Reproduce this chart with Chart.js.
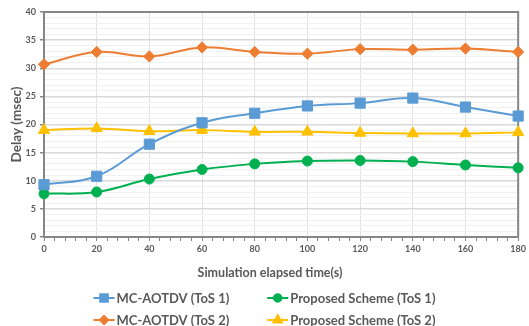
<!DOCTYPE html>
<html>
<head>
<meta charset="utf-8">
<script src="https://cdn.jsdelivr.net/npm/chart.js@4.4.0/dist/chart.umd.min.js"></script>
<style>
  html, body { margin: 0; padding: 0; background: #ffffff; }
  #wrap { width: 529px; height: 326px; }
</style>
</head>
<body>
<div id="wrap"><canvas id="chart" width="529" height="326"></canvas></div>
<script>
// Simulation time (s) at which delay was sampled
const times = [0, 20, 40, 60, 80, 100, 120, 140, 160, 180];

// Average delay (msec) per scheme and type of service
const mcAotdvTos1   = [9.3, 10.8, 16.5, 20.3, 22.0, 23.3, 23.8, 24.7, 23.1, 21.5];
const mcAotdvTos2   = [30.7, 32.9, 32.1, 33.7, 32.9, 32.6, 33.4, 33.3, 33.5, 32.9];
const proposedTos1  = [7.7, 8.0, 10.3, 12.0, 13.0, 13.5, 13.6, 13.4, 12.8, 12.3];
const proposedTos2  = [19.0, 19.3, 18.8, 19.0, 18.7, 18.7, 18.5, 18.4, 18.4, 18.6];

const seriesNames = ['MC-AOTDV (ToS 1)', 'MC-AOTDV (ToS 2)', 'Proposed Scheme (ToS 1)', 'Proposed Scheme (ToS 2)'];

// Axis settings
const yMin = 0, yMax = 40, yMajor = 5;
const xMin = 0, xMax = 180, xMajor = 20, xMinor = 4;
const xTitle = 'Simulation elapsed time(s)';
const yTitle = 'Delay (msec)';

const FONT = 'Lato, "Open Sans", "DejaVu Sans", sans-serif';
const TEXT = '#595959';
const AXIS = '#868686';

function pairs(values) {
  return values.map((v, i) => ({ x: times[i], y: v }));
}

function series(label, values, color, style, radius) {
  return {
    label,
    data: pairs(values),
    borderColor: color,
    backgroundColor: color,
    borderWidth: 2,
    pointStyle: style,
    pointRadius: radius,
    pointHoverRadius: radius,
    pointBackgroundColor: color,
    pointBorderColor: color,
    pointBorderWidth: 1,
    tension: 0.4,
    clip: false,
    fill: false
  };
}

const datasets = [
  series(seriesNames[0], mcAotdvTos1, '#5B9BD5', 'rect', 7.2),
  series(seriesNames[1], mcAotdvTos2, '#ED7D31', 'rectRot', 5.6),
  series(seriesNames[2], proposedTos1, '#00B050', 'circle', 5),
  series(seriesNames[3], proposedTos2, '#FFC000', 'triangle', 6.5)
];

// Legend entries laid out two per row: ToS 1 on the first row, ToS 2 below
const legendGrid = [[0, 2], [1, 3]];

const framePlugin = {
  id: 'plotFrame',
  beforeDatasetsDraw(chart) {
    const { ctx, chartArea: a } = chart;
    ctx.save();
    ctx.strokeStyle = AXIS;
    ctx.lineWidth = 2;
    ctx.beginPath();
    ctx.moveTo(a.left, a.top);
    ctx.lineTo(a.right, a.top);
    ctx.lineTo(a.right, a.bottom);
    ctx.stroke();
    ctx.restore();
  },
  afterDraw(chart) {
    const { ctx } = chart;
    ctx.save();
    // x axis title
    ctx.fillStyle = TEXT;
    ctx.font = 'bold 12.5px ' + FONT;
    ctx.textAlign = 'center';
    ctx.textBaseline = 'middle';
    ctx.fillText(xTitle, 270, 273);

    // legend
    ctx.font = 'bold 13px ' + FONT;
    const lineLen = 21, gapText = 2, colGap = 38, rowY = [298, 320];
    const colW = [0, 1].map(c => Math.max(...legendGrid.map(r => ctx.measureText(chart.data.datasets[r[c]].label).width)));
    const total = lineLen + gapText + colW[0] + colGap + lineLen + gapText + colW[1];
    let x0 = (chart.width - total) / 2;
    const colX = [x0, x0 + lineLen + gapText + colW[0] + colGap];
    legendGrid.forEach((row, r) => {
      row.forEach((di, c) => {
        const ds = chart.data.datasets[di];
        const lx = colX[c], ly = rowY[r];
        ctx.strokeStyle = ds.borderColor;
        ctx.lineWidth = 2;
        ctx.beginPath();
        ctx.moveTo(lx, ly);
        ctx.lineTo(lx + lineLen, ly);
        ctx.stroke();
        ctx.fillStyle = ds.backgroundColor;
        Chart.helpers.drawPoint(ctx, {
          pointStyle: ds.pointStyle,
          radius: ds.pointRadius * 0.75,
          rotation: 0,
          borderWidth: 1
        }, lx + lineLen / 2, ly);
        ctx.fillStyle = TEXT;
        ctx.textAlign = 'left';
        ctx.fillText(ds.label, lx + lineLen + gapText, ly + 0.5);
      });
    });
    ctx.restore();
  }
};

new Chart(document.getElementById('chart'), {
  type: 'line',
  data: { datasets },
  options: {
    responsive: false,
    animation: false,
    layout: { padding: { top: 12, right: 9, bottom: 45, left: 0 } },
    plugins: {
      legend: { display: false },
      tooltip: { enabled: false }
    },
    scales: {
      x: {
        type: 'linear',
        min: xMin,
        max: xMax,
        afterFit(scale) { scale.height = 44; },
        ticks: {
          stepSize: xMinor,
          autoSkip: false,
          maxRotation: 0,
          padding: 3,
          color: TEXT,
          font: { family: FONT, size: 9, weight: 'bold' },
          callback: v => (v % xMajor === 0 ? String(v) : '')
        },
        grid: {
          color: c => (c.tick && c.tick.value % xMajor === 0 ? '#e2e2e2' : 'rgba(0,0,0,0)'),
          lineWidth: 1,
          tickColor: AXIS,
          tickLength: 4,
          drawOnChartArea: true
        },
        border: { color: AXIS, width: 2 },
        title: { display: false }
      },
      y: {
        min: yMin,
        max: yMax,
        afterFit(scale) { scale.width = 44; },
        ticks: {
          stepSize: 1,
          autoSkip: false,
          padding: 4,
          color: TEXT,
          font: { family: FONT, size: 9, weight: 'bold' },
          callback: v => (v % yMajor === 0 ? String(v) : '')
        },
        grid: {
          color: c => (c.tick && c.tick.value % yMajor === 0 ? '#d9d9d9' : '#f1f1f1'),
          lineWidth: c => (c.tick && c.tick.value % yMajor === 0 ? 1.5 : 1),
          tickColor: c => (c.tick && c.tick.value % yMajor === 0 ? AXIS : 'rgba(0,0,0,0)'),
          tickLength: 4
        },
        border: { color: AXIS, width: 2 },
        title: {
          display: true,
          text: yTitle,
          color: TEXT,
          font: { family: FONT, size: 13.5, weight: 'bold' },
          padding: { top: 9, bottom: 0 }
        }
      }
    }
  },
  plugins: [framePlugin]
});
</script>
</body>
</html>
